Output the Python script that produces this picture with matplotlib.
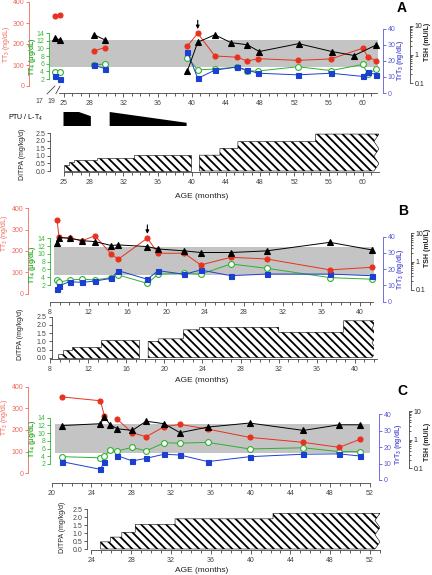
import numpy as np
import matplotlib
matplotlib.use("Agg")
import matplotlib.pyplot as plt
from matplotlib.ticker import NullFormatter

nan = np.nan

# ---- panel A (ages under 24 months sit on the broken start of the axis) ----
a_age = [17, 19, nan, 28.6, 29.8, nan, 39.5, 40.7, 42.7, 45.3, 46.5, 47.8, 52.4, 56.3, 60.0, 60.6, 61.6]
a_tt3 = [333, 340, nan, 167, 183, nan, 190, 251, 143, 137, 119, 130, 122, 129, 180, 140, 118]
a_tt4 = [3.9, 3.9, nan, 5.7, 5.9, nan, 7.6, 4.4, 4.6, 5.1, 4.1, 4.1, 5.2, 4.2, 5.8, 3.3, 4.6]
a_rt3 = [10.3, 8.6, nan, 17.3, 15.2, nan, 25.7, 9.1, 14.2, 16.2, 14.2, 12.3, 11.3, 12.3, 10.3, 13.1, 11.3]
a_tsh_age = [17, 19, nan, 28.6, 29.8, nan, 39.5, 40.7, 42.7, 44.6, 46.5, 47.9, 52.5, 56.4, 59.0, 61.5]
a_tsh = [3.7, 3.3, nan, 4.9, 3.3, nan, 0.27, 2.7, 4.9, 2.6, 2.2, 1.27, 2.4, 1.27, 0.92, 2.1]
a_arrow = 40.7
a_band_age = [23.4, 61.8]
a_band_tsh = [0.35, 3.1]
a_ptu_age = [25.0, 26.8, 28.2, nan, 30.4, 39.4]
a_ptu_dose = [1.0, 1.0, 0.7, nan, 1.0, 0.23]
a_ditpa_age = [25.0, 25.7, 26.2, 28.9, 33.2, 39.9, 40.9, 43.3, 45.4, 54.5]
a_ditpa_dose = [0.4, 0.6, 0.72, 0.85, 1.05, 0, 1.05, 1.5, 1.95, 2.45]
a_ditpa_end = 61.9

# ---- panel B ----
b_age = [8.8, 9.0, 10.1, 11.4, 12.7, 14.4, 15.1, 18.1, 19.2, 21.9, 23.6, 26.7, 30.4, 36.9, 41.2]
b_tt3 = [346, 263, 260, 248, 271, 184, 161, 260, 189, 189, 134, 170, 162, 111, 123]
b_tt4 = [3.3, 2.7, 3.3, 3.5, 3.3, 3.9, 4.6, 2.4, 4.8, 5.0, 4.8, 7.4, 6.3, 3.9, 3.5]
b_rt3 = [7.8, 9.8, 12.3, 11.9, 12.7, 14.4, 19.1, 13.8, 19.1, 16.9, 19.5, 16.0, 17.0, 17.0, 16.0]
b_tsh = [4.5, 7.1, 6.7, 5.5, 5.1, 3.7, 3.9, 3.4, 2.8, 2.4, 2.1, 2.1, 2.4, 4.8, 2.6]
b_arrow = 18.1
b_band_age = [8.4, 41.4]
b_band_tsh = [0.34, 3.4]
b_ditpa_age = [8.8, 9.4, 10.3, 13.4, 17.3, 18.3, 19.4, 22.0, 23.7, 32.0, 38.8]
b_ditpa_dose = [0.25, 0.5, 0.65, 1.05, 0, 1.0, 1.15, 1.7, 1.85, 1.55, 2.25]
b_ditpa_end = 42.3

# ---- panel C ----
c_age = [21.0, 24.9, 25.3, nan, 26.6, 28.1, 29.5, 31.3, 32.9, 35.7, 39.9, 45.3, 48.9, 51.0]
c_tt3 = [353, 335, 264, nan, 249, 187, 169, 215, 226, 204, 166, 143, 120, 157]
c_rt3 = [11.2, 6.5, 11.2, nan, 14.8, 11.6, 13.2, 15.7, 15.2, 11.2, 14.2, 15.7, 15.9, 14.6]
c_age4 = [21.0, 24.9, 25.3, 25.9, 26.6, 28.1, 29.5, 31.3, 32.9, 35.7, 39.9, 45.3, 48.9, 51.0]
c_tt4 = [3.9, 3.6, 4.1, 5.6, 5.4, 6.3, 5.4, 7.5, 7.4, 7.6, 5.9, 6.2, 5.2, 5.2]
c_tsh = [3.1, 3.6, 6.1, 3.3, 2.4, 2.1, 4.4, 3.6, 1.75, 2.75, 3.8, 2.1, 3.3, 3.3]
c_band_age = [20.3, 52.0]
c_band_tsh = [0.33, 3.6]
c_ditpa_age = [24.9, 25.9, 27.05, 28.4, 32.4, 42.25]
c_ditpa_dose = [0.45, 0.75, 1.05, 1.55, 1.9, 2.25]
c_ditpa_end = 53.0

W, H = 432, 575
plt.rcParams['font.family'] = ['Liberation Sans', 'DejaVu Sans']
plt.rcParams['mathtext.default'] = 'regular'
plt.rcParams['hatch.linewidth'] = 1.3
fig = plt.figure(figsize=(W / 100, H / 100), dpi=100)

RED, GREEN, BLUE = '#e8311e', '#2fb030', '#1b3fd0'
RED_T, GREEN_T, BLUE_T = '#ee6a5c', '#3db83c', '#5a5ad8'
GREY = '#444444'


def rect(b):
    x0, y0, x1, y1 = b
    return [x0 / W, 1 - y1 / H, (x1 - x0) / W, (y1 - y0) / H]


def lin(p, ref):
    (v1, p1), (v2, p2) = ref
    return v1 + (p - p1) * (v2 - v1) / (p2 - p1)


def add(box, xref, yref, log=False):
    ax = fig.add_axes(rect(box))
    ax.set_xlim(lin(box[0], xref), lin(box[2], xref))
    if log:
        ax.set_yscale('log')
        r = [(np.log10(v), p) for v, p in yref]
        ax.set_ylim(10 ** lin(box[3], r), 10 ** lin(box[1], r))
    else:
        ax.set_ylim(lin(box[3], yref), lin(box[1], yref))
    ax.patch.set_visible(False)
    for s in ax.spines.values():
        s.set_visible(False)
    ax.set_xticks([])
    ax.set_yticks([])
    ax.set_xticks([], minor=True)
    ax.set_yticks([], minor=True)
    return ax


def yspine(ax, side, xpix, box, ticks, labels, color, lcolor, minor=()):
    sp = ax.spines[side]
    sp.set_visible(True)
    sp.set_position(('axes', (xpix - box[0]) / (box[2] - box[0])))
    sp.set_bounds(ticks[0], ticks[-1])
    sp.set_color(color)
    sp.set_linewidth(0.6)
    ax.yaxis.set_ticks_position(side)
    ax.set_yticks(ticks, labels)
    ax.set_yticks(minor, minor=True)
    ax.yaxis.set_minor_formatter(NullFormatter())
    ax.tick_params(axis='y', which='both', direction='out', color=color, labelcolor=lcolor,
                   labelsize=5, width=0.6, length=2.5, pad=1)
    ax.tick_params(axis='y', which='minor', length=1.5)


def xaxis(ax, bounds, major, minor):
    sp = ax.spines['bottom']
    sp.set_visible(True)
    sp.set_bounds(*bounds)
    sp.set_linewidth(0.6)
    sp.set_color(GREY)
    ax.set_xticks(major, [str(m) for m in major])
    ax.set_xticks(minor, minor=True)
    ax.xaxis.set_minor_formatter(NullFormatter())
    ax.tick_params(axis='x', which='both', direction='out', color=GREY, labelcolor=GREY,
                   labelsize=5, width=0.6, length=3, pad=2)
    ax.tick_params(axis='x', which='minor', length=1.8)


def steps(age, dose, end, notch):
    polys, cur = [], None
    for a, d, e in zip(age, dose, list(age[1:]) + [end]):
        if d == 0:
            if cur:
                polys.append(cur + [(a, 0)])
                cur = None
            continue
        if cur is None:
            cur = [(a, 0)]
        cur += [(a, d), (e, d)]
    top = cur[-1][1]
    for i, f in enumerate([0.8, 0.6, 0.4, 0.2, 0.0]):
        cur.append((end - notch * (i % 2 == 0), top * f))
    polys.append(cur)
    return polys


def line(ax, x, y, color, marker, ms, mfc=None):
    ax.plot(x, y, color=color, lw=0.7, marker=marker, ms=ms, mfc=mfc or color,
            mec=color, mew=0.8, clip_on=False)


def panel(g, age, tt3, age4, tt4, rt3, tsh_age, tsh, band_age, band_tsh,
          d_age, d_dose, d_end, arrow=None):
    box = g['box']
    base = add(box, g['x'], g['tsh'], log=True)
    base.fill_between(band_age, band_tsh[0], band_tsh[1], color='#c4c4c4', lw=0)
    xaxis(base, g['xb'], g['xt'], g['xm'])

    a4 = add(box, g['x'], g['tt4'])
    yspine(a4, 'left', g['sx'][1], box, list(range(2, 15, 2)),
           [str(v) for v in range(2, 15, 2)], GREEN, GREEN_T)
    line(a4, age4, tt4, GREEN, 'o', 4.2, 'white')

    ar = add(box, g['x'], g['rt3'])
    yspine(ar, 'right', g['sx'][2], box, [0, 10, 20, 30, 40],
           ['0', '10', '20', '30', '40'], BLUE_T, BLUE_T)
    line(ar, age, rt3, BLUE, 's', 3.6)

    a3 = add(box, g['x'], g['tt3'])
    yspine(a3, 'left', g['sx'][0], box, [0, 100, 200, 300, 400],
           ['0', '100', '200', '300', '400'], RED_T, RED_T)
    line(a3, age, tt3, RED, 'o', 3.6)

    at = add(box, g['x'], g['tsh'], log=True)
    minor = [k * 0.1 for k in range(2, 10)] + list(range(2, 10))
    yspine(at, 'right', g['sx'][3], box, [0.1, 1, 10], ['0.1', '1', '10'], GREY, '#222222', minor)
    line(at, tsh_age, tsh, 'black', '^', 4.5)

    if arrow is not None:
        peak = np.nanmax([v for a, v in zip(age, tt3) if a == arrow])
        a3.annotate('', xy=(arrow, peak + 20), xytext=(arrow, peak + 62),
                    arrowprops=dict(arrowstyle='-|>', color='black', lw=0.8,
                                    mutation_scale=5, shrinkA=0, shrinkB=0))

    dbox = g['dbox']
    dx = add(dbox, g['x'], g['d'])
    yspine(dx, 'left', g['dsx'], dbox, [0, 0.5, 1.0, 1.5, 2.0, 2.5],
           ['0.0', '0.5', '1.0', '1.5', '2.0', '2.5'], GREY, GREY)
    xaxis(dx, g['dxb'], g['dxt'], g['dxm'])
    notch = lin(dbox[0] + 5, g['x']) - lin(dbox[0], g['x'])
    for poly in steps(d_age, d_dose, d_end, notch):
        xs, ys = zip(*poly)
        dx.fill(xs, ys, facecolor='white', edgecolor='black', hatch='\\\\\\\\', lw=0.4)
    return a3


GA = dict(box=(49, 0, 379, 93), x=((25, 63.5), (60, 362.7)),
          tt3=((0, 86), (400, 2)), tt4=((0, 86.7), (14, 33)), rt3=((0, 94), (40, 29)),
          tsh=((0.1, 83), (10, 26)), sx=(29, 49, 383, 410),
          xb=(24.5, 61.7), xt=[25] + list(range(28, 61, 4)), xm=list(range(25, 62)),
          dbox=(49, 128, 379, 172), d=((0, 171), (2.5, 133.3)), dsx=50,
          dxb=(25, 61.9), dxt=[25] + list(range(28, 61, 4)), dxm=list(range(25, 62)))
GB = dict(box=(50, 205, 374, 301.7), x=((8, 49.3), (40, 360)),
          tt3=((0, 293.5), (400, 208.3)), tt4=((0, 292.8), (14, 238.3)), rt3=((0, 301.7), (40, 236.7)),
          tsh=((0.1, 290), (10, 233.3)), sx=(28, 50, 382.7, 411),
          xb=(8, 41.3), xt=list(range(8, 41, 4)), xm=list(range(8, 42)),
          dbox=(50, 312, 374, 359.3), d=((0, 357.7), (2.5, 316.7)), dsx=51.5,
          dxb=(8, 42.3), dxt=list(range(8, 41, 4)), dxm=list(range(8, 43)))
GC = dict(box=(50, 384, 380, 482.7), x=((20, 51.7), (52, 370)),
          tt3=((0, 473.3), (400, 386.7)), tt4=((0, 471.7), (14, 417.7)), rt3=((0, 480), (40, 414.3)),
          tsh=((0.1, 468.3), (10, 411)), sx=(28, 50, 379, 409),
          xb=(20, 52), xt=list(range(20, 53, 4)), xm=list(range(20, 53)),
          dbox=(50, 505, 380, 550), d=((0, 549), (2.5, 509.3)), dsx=87.3,
          dxb=(24, 53), dxt=list(range(24, 53, 4)), dxm=list(range(24, 54)))


def broken(ages):
    # squeeze the early visits (17 and 19 months) onto the start of the axis
    return [a if not a < 24 else 24.0 + (a - 17) * 0.3 for a in ages]


axA = panel(GA, broken(a_age), a_tt3, broken(a_age), a_tt4, a_rt3, broken(a_tsh_age), a_tsh,
            a_band_age, a_band_tsh, a_ditpa_age, a_ditpa_dose, a_ditpa_end, arrow=a_arrow)
panel(GB, b_age, b_tt3, b_age, b_tt4, b_rt3, b_age, b_tsh, b_band_age, b_band_tsh,
      b_ditpa_age, b_ditpa_dose, b_ditpa_end, arrow=b_arrow)
panel(GC, c_age, c_tt3, c_age4, c_tt4, c_rt3, c_age4, c_tsh, c_band_age, c_band_tsh,
      c_ditpa_age, c_ditpa_dose, c_ditpa_end)

# labels for the broken part of the A axis
for a, off in ((17, (-11, -11)), (19, (-6, -11))):
    axA.annotate(str(a), xy=(broken([a])[0], 0), xytext=off, textcoords='offset points',
                 fontsize=5, color=GREY, ha='center', va='center',
                 arrowprops=dict(arrowstyle='-', lw=0.6, color=GREY, shrinkA=1, shrinkB=0))

# PTU / L-T4 treatment bar
ptu = add((49, 110, 379, 127), GA['x'], ((0, 126), (1, 112)))
ptu.fill_between(a_ptu_age, 0, a_ptu_dose, color='black', lw=0)
fig.text(8 / W, 1 - 118 / H, 'PTU / L-T$_4$', fontsize=5, ha='left', va='center')


def ftext(x, y, s, **kw):
    fig.text(x / W, 1 - y / H, s, ha='center', va='center', **kw)


for (ry, gy, by, ty, dxp, dy, ay, ly, rx, bx) in (
        (44, 57, 60, 42, 22, 154, 196, 8, 7, 401),
        (233, 265, 269, 248, 20, 334, 381, 211, 5, 401),
        (417, 439, 444, 442, 63, 527, 570, 391, 5, 399)):
    ftext(rx, ry, 'TT$_3$ (ng/dL)', rotation=90, fontsize=5, color=RED_T)
    ftext(32, gy, 'TT$_4$ (μg/dL)', rotation=90, fontsize=5, color=GREEN, fontweight='bold')
    ftext(bx, by, 'TrT$_3$ (ng/dL)', rotation=90, fontsize=5, color=BLUE_T, fontweight='bold')
    ftext(427.5, ty, 'TSH (mU/L)', rotation=90, fontsize=5, color='#222222', fontweight='bold')
    ftext(dxp, dy, 'DITPA (mg/kg/d)', rotation=90, fontsize=5, color='#222222')
    ftext(202, ay, 'AGE (months)', fontsize=6, color='#222222')

for s, x, y in (('A', 402, 8), ('B', 403, 211), ('C', 402, 391)):
    ftext(x, y, s, fontsize=10, fontweight='bold')

fig.savefig('out.png', dpi=100)
